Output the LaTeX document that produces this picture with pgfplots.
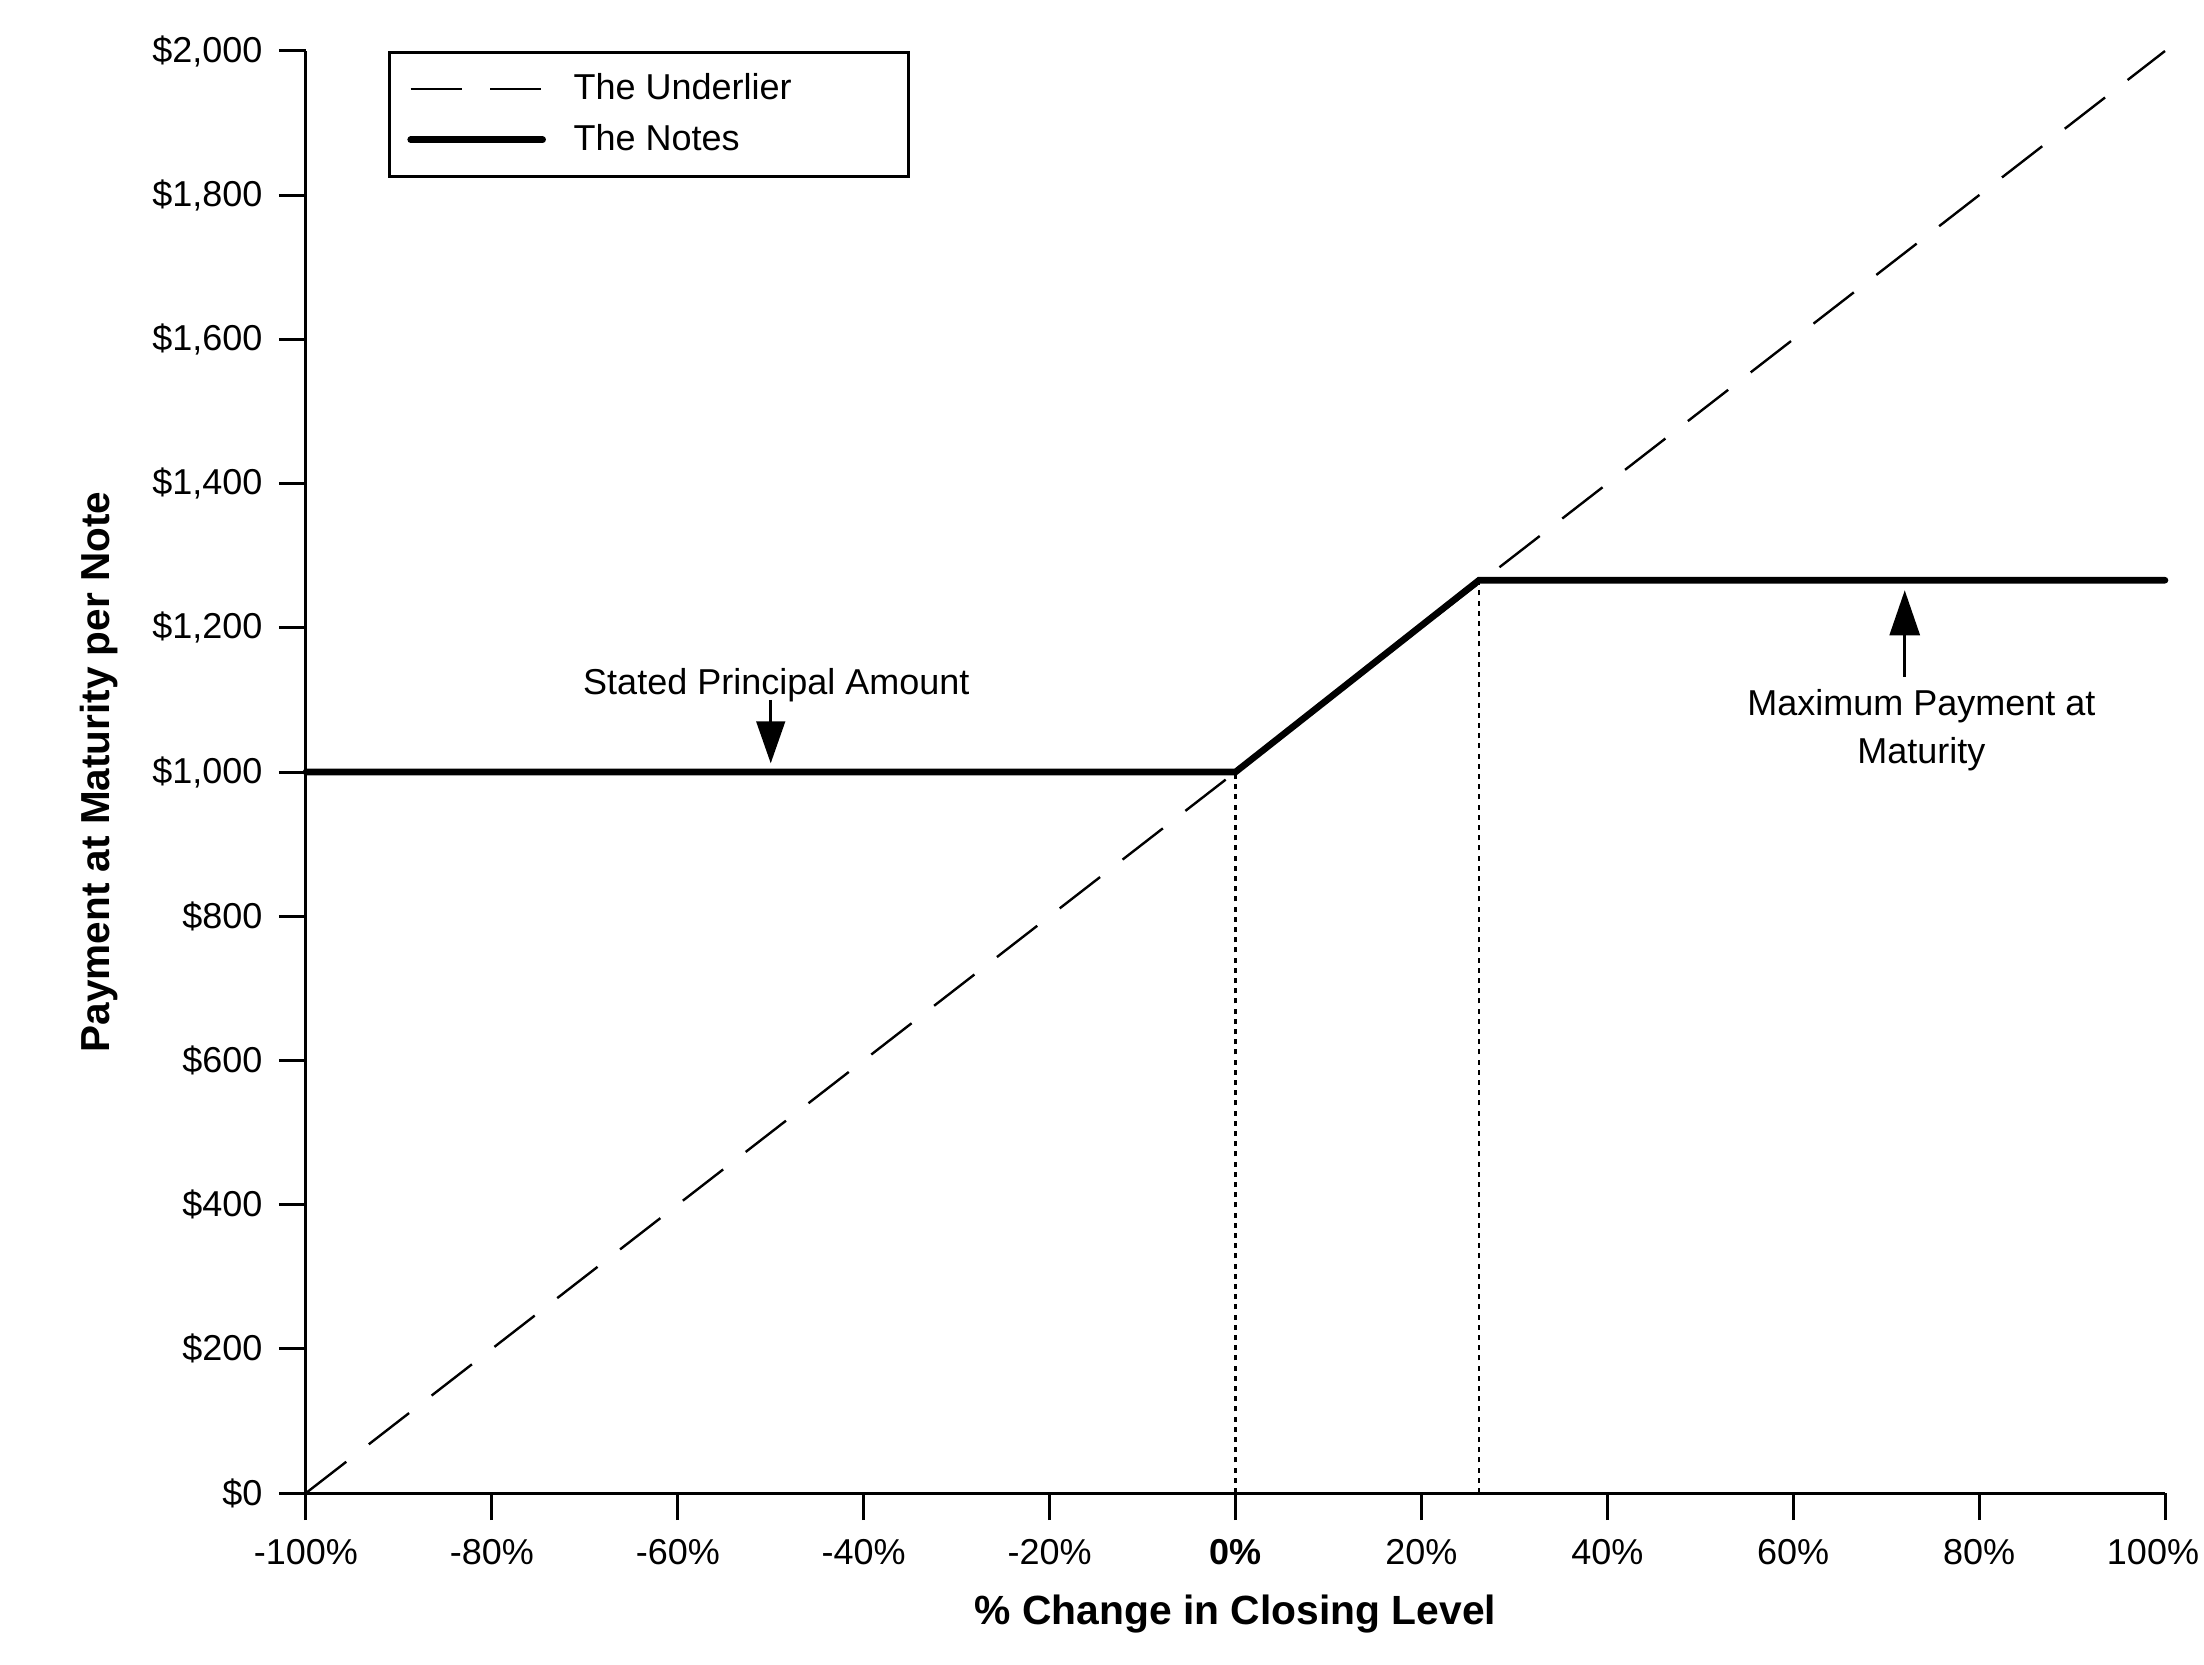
\documentclass[border=0pt]{standalone}
\usepackage{fontspec}
\setmainfont{Liberation Sans}
\usepackage{pgfplots}
\pgfplotsset{compat=1.18}
\usetikzlibrary{arrows.meta}

\begin{document}
\begin{tikzpicture}
\begin{axis}[
  scale only axis, width=619.7pt, height=480.7pt,
  xmin=-100, xmax=100, ymin=0, ymax=2000,
  enlargelimits=false,
  axis lines=left,
  axis line style={-, line width=1pt, black},
  clip=false,
  xtick={-100,-80,...,100},
  xticklabels={-100\%,-80\%,-60\%,-40\%,-20\%,\textbf{0\%},20\%,40\%,60\%,80\%,{100\%\hspace*{8pt}}},
  ytick={0,200,...,2000},
  yticklabels={\$0,\$200,\$400,\$600,\$800,{\$1,000},{\$1,200},{\$1,400},{\$1,600},{\$1,800},{\$2,000}},
  tick align=outside,
  major tick length=9pt,
  tick style={line width=1pt, black},
  ticklabel style={font=\fontsize{12}{14}\selectfont},
  xticklabel style={yshift=-3pt},
  yticklabel style={xshift=-2pt},
  xlabel={\% Change in Closing Level},
  ylabel={Payment at Maturity per Note},
  xlabel style={font=\bfseries\fontsize{13.6}{16}\selectfont, at={(axis description cs:0.5,-0.0909)}, anchor=base},
  ylabel style={font=\bfseries\fontsize{13.5}{16}\selectfont, at={(axis description cs:-0.1115,0.5)}, anchor=center},
  legend style={at={(axis description cs:0.04405,1)}, anchor=north west, draw=black, line width=1pt,
    font=\fontsize{12}{14}\selectfont, inner xsep=6pt, inner ysep=7pt, row sep=6.8pt, column sep=9.2pt,
    nodes={inner sep=0pt}},
  legend cell align=left,
  legend image code/.code={\draw[#1] (0pt,0pt) -- (44pt,0pt);},
]
\addplot[black, line width=0.8pt, dash pattern=on 17pt off 9.5pt] coordinates {(-100,0) (100,2000)};
\addlegendentry{\makebox[105.7pt][l]{The Underlier}}
\addplot[black, line width=2.2pt, line cap=round] coordinates {(-100,1000) (0,1000) (26.2,1266) (100,1266)};
\addlegendentry{\makebox[105.7pt][l]{The Notes}}
\addplot[forget plot, black, line width=0.7pt, dash pattern=on 1.7pt off 1.7pt] coordinates {(0,0) (0,1000)};
\addplot[forget plot, black, line width=0.7pt, dash pattern=on 1.7pt off 1.7pt] coordinates {(26.2,0) (26.2,1266)};

\node[anchor=base, font=\fontsize{12}{14}\selectfont] at (axis cs:-49.4,1108) {Stated Principal Amount};
\draw[black, line width=1pt, -{Triangle[length=14pt,width=9.5pt]}] (axis cs:-50,1100) -- (axis cs:-50,1012);
\draw[black, line width=1pt, -{Triangle[length=15pt,width=10pt]}] (axis cs:72,1132) -- (axis cs:72,1252);
\node[anchor=north, align=center, font=\fontsize{12}{16}\selectfont, inner sep=0pt] at (axis cs:73.8,1116) {Maximum Payment at\\Maturity};
\end{axis}
\pgfresetboundingbox
\path (-102pt,-57pt) rectangle (632.7pt,497.7pt);
\end{tikzpicture}
\end{document}
